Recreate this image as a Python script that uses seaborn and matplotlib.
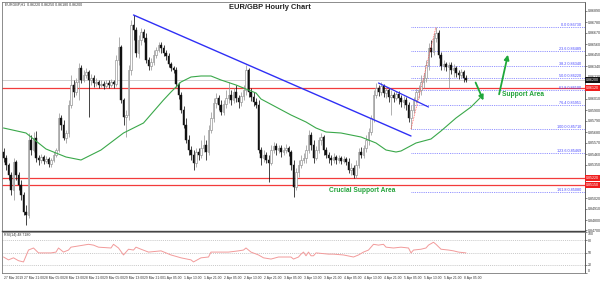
import numpy as np
import pandas as pd
import matplotlib
matplotlib.use("Agg")
import matplotlib.pyplot as plt
import matplotlib.transforms as mtransforms
import seaborn as sns

# ---------------- data (prices in points of 0.0001) ----------------
open_pts = [8548,8542,8535,8525,8510,8538,8525,8515,8505,8488,
            8485,8560,8550,8562,8542,8540,8543,8539,8541,8536,
            8540,8545,8550,8582,8575,8562,8567,8595,8615,8608,
            8618,8632,8620,8625,8628,8620,8622,8617,8618,8615,
            8616,8614,8617,8615,8618,8616,8640,8653,8600,8583,
            8585,8630,8675,8670,8647,8660,8668,8662,8640,8634,
            8638,8645,8650,8655,8652,8647,8644,8636,8632,8630,
            8616,8605,8590,8575,8560,8550,8545,8537,8548,8545,
            8552,8555,8548,8570,8582,8597,8602,8595,8588,8596,
            8602,8605,8600,8608,8602,8598,8604,8610,8630,8608,
            8603,8598,8595,8550,8542,8545,8540,8537,8550,8554,
            8550,8552,8548,8550,8552,8548,8535,8513,8528,8535,
            8540,8542,8550,8565,8555,8542,8550,8560,8563,8550,
            8545,8542,8540,8543,8540,8542,8539,8541,8538,8530,
            8532,8525,8535,8548,8545,8552,8560,8568,8582,8605,
            8612,8608,8614,8607,8610,8603,8605,8602,8606,8602,
            8598,8600,8595,8582,8590,8600,8608,8610,8618,8622,
            8635,8652,8648,8662,8667,8645,8634,8636,8633,8635,
            8630,8632,8627,8625,8628,8622]
high_pts = [8552,8545,8537,8528,8542,8540,8528,8520,8508,8495,
            8567,8565,8568,8569,8545,8546,8545,8544,8543,8542,
            8548,8552,8587,8585,8580,8570,8600,8625,8620,8622,
            8637,8635,8630,8632,8630,8626,8625,8622,8620,8620,
            8619,8620,8620,8621,8620,8645,8663,8655,8602,8590,
            8635,8680,8685,8673,8665,8672,8671,8667,8643,8642,
            8650,8653,8658,8658,8655,8650,8647,8638,8634,8633,
            8618,8608,8594,8582,8565,8554,8550,8552,8552,8560,
            8565,8560,8575,8588,8602,8607,8605,8600,8600,8610,
            8618,8610,8612,8615,8605,8608,8615,8635,8632,8612,
            8608,8602,8600,8553,8550,8548,8545,8555,8558,8557,
            8555,8555,8553,8556,8554,8550,8540,8532,8540,8545,
            8547,8555,8570,8568,8560,8554,8563,8567,8565,8553,
            8548,8545,8547,8545,8545,8544,8544,8543,8542,8537,
            8535,8540,8552,8553,8555,8565,8572,8585,8610,8617,
            8615,8618,8616,8613,8612,8610,8608,8609,8609,8605,
            8604,8603,8598,8595,8603,8612,8615,8625,8627,8640,
            8657,8660,8667,8673,8670,8648,8640,8638,8638,8638,
            8636,8634,8630,8631,8630,8625]
low_pts = [8538,8530,8520,8505,8500,8520,8510,8500,8485,8475,
           8482,8545,8548,8538,8535,8537,8536,8537,8533,8533,
           8538,8543,8548,8570,8560,8557,8563,8592,8603,8605,
           8600,8617,8618,8622,8583,8615,8613,8614,8612,8613,
           8611,8612,8612,8613,8612,8614,8635,8597,8575,8563,
           8580,8625,8660,8643,8642,8655,8658,8637,8630,8630,
           8635,8642,8648,8647,8644,8640,8633,8629,8627,8613,
           8601,8587,8572,8557,8545,8540,8530,8533,8540,8542,
           8548,8540,8545,8567,8578,8592,8590,8585,8585,8592,
           8597,8595,8597,8598,8592,8594,8600,8605,8603,8599,
           8594,8592,8547,8535,8538,8537,8518,8535,8547,8545,
           8547,8543,8545,8547,8544,8530,8503,8510,8523,8532,
           8537,8537,8547,8550,8537,8540,8547,8555,8545,8542,
           8537,8535,8537,8536,8537,8536,8537,8535,8527,8525,
           8522,8522,8532,8542,8542,8548,8555,8565,8578,8602,
           8604,8605,8603,8602,8598,8585,8598,8600,8596,8593,
           8592,8590,8578,8571,8587,8597,8602,8605,8612,8618,
           8630,8643,8645,8658,8642,8630,8630,8629,8612,8626,
           8623,8623,8621,8622,8618,8618]
close_pts = [8542,8535,8525,8510,8538,8525,8515,8505,8488,8485,
             8560,8550,8562,8542,8540,8543,8539,8541,8536,8540,
             8545,8550,8582,8575,8562,8567,8595,8615,8608,8618,
             8632,8620,8625,8628,8620,8622,8617,8618,8615,8616,
             8614,8617,8615,8618,8616,8640,8653,8600,8583,8585,
             8630,8675,8670,8647,8660,8668,8662,8640,8634,8638,
             8645,8650,8655,8652,8647,8644,8636,8632,8630,8616,
             8605,8590,8575,8560,8550,8545,8537,8548,8545,8552,
             8555,8548,8570,8582,8597,8602,8595,8588,8596,8602,
             8605,8600,8608,8602,8598,8604,8610,8630,8608,8603,
             8598,8595,8550,8542,8545,8540,8537,8550,8554,8550,
             8552,8548,8550,8552,8548,8535,8513,8528,8535,8540,
             8542,8550,8565,8555,8542,8550,8560,8563,8550,8545,
             8542,8540,8543,8540,8542,8539,8541,8538,8530,8532,
             8525,8535,8548,8545,8552,8560,8568,8582,8605,8612,
             8608,8614,8607,8610,8603,8605,8602,8606,8602,8598,
             8600,8595,8582,8590,8600,8608,8610,8618,8622,8635,
             8652,8648,8662,8667,8645,8634,8636,8633,8635,8630,
             8632,8627,8625,8628,8622,8620]

# moving average (green) sampled at bar indices
ma_bar = [0, 9, 13, 17, 21, 25, 31, 39, 48, 56, 64, 67, 71, 75, 79, 83, 87, 93, 97,
          101, 103, 109, 115, 121, 125, 129, 135, 143, 149, 153, 157, 159, 165, 171,
          175, 181, 187, 191]
ma_pts = [8572, 8567, 8559, 8551, 8547, 8543, 8540, 8550, 8567, 8577, 8600, 8608, 8618,
          8623, 8624, 8624, 8620, 8615, 8611, 8607, 8601, 8593, 8585, 8578, 8572, 8568,
          8567, 8563, 8557, 8550, 8548, 8549, 8557, 8561, 8569, 8582, 8593, 8603]

# RSI(14)
rsi_bar = [0,2,4,6,8,10,12,14,19,21,22,24,26,27,30,34,36,38,43,44,46,48,50,52,53,55,58,
           63,67,71,75,76,79,82,83,86,90,94,96,97,99,102,104,107,110,112,115,116,118,119,
           120,121,122,123,124,125,130,132,136,140,142,144,146,148,150,152,153,156,159,
           162,163,164,167,169,170,172,173,175,178,180,182,185]
rsi_val = [39,32,37,30,27,56,61,49,49,51,61,51,56,63,66,70,68,63,61,70,61,44,58,56,63,58,
           51,54,44,37,32,27,37,39,51,51,51,54,56,61,51,44,37,34,39,39,39,34,39,46,51,42,
           51,42,42,49,46,46,44,39,44,51,56,70,68,70,63,61,63,61,49,56,58,61,68,75,70,58,
           56,54,51,49]
rsi_levels = [80, 50, 20]
rsi_ticks = [100, 80, 50, 20, 0]

time_labels = ["27 Mar 2019", "27 Mar 21:00", "28 Mar 05:00", "28 Mar 13:00", "28 Mar 21:00",
               "29 Mar 05:00", "29 Mar 13:00", "29 Mar 21:00", "1 Apr 05:00", "1 Apr 13:00",
               "1 Apr 21:00", "2 Apr 05:00", "2 Apr 13:00", "2 Apr 21:00", "3 Apr 05:00",
               "3 Apr 13:00", "3 Apr 21:00", "4 Apr 05:00", "4 Apr 13:00", "4 Apr 21:00",
               "5 Apr 05:00", "5 Apr 13:00", "5 Apr 21:00", "8 Apr 05:00"]
bars_per_label = 8

price_ticks = [0.8689, 0.8678, 0.8667, 0.8656, 0.8645, 0.8634, 0.8623, 0.8601, 0.8590,
               0.8579, 0.8568, 0.8557, 0.8546, 0.8535, 0.8502, 0.8491, 0.8480, 0.8470]

support_levels = [0.8612, 0.8522, 0.8515]
current_price = 0.8620

trend1_bar = [52, 163]
trend1_price = [0.8685, 0.8564]
trend2_bar = [150, 170]
trend2_price = [0.8617, 0.8593]

fib_high_bar, fib_high = 173, 0.8673
fib_low_bar, fib_low = 163, 0.8571
fib_ratios = [0.0, 23.6, 38.2, 50.0, 61.8, 76.4, 100.0, 123.6, 161.8]

# ---------------- build frames ----------------
df = pd.DataFrame({"bar": np.arange(len(close_pts)),
                   "open": np.array(open_pts) / 1e4, "high": np.array(high_pts) / 1e4,
                   "low": np.array(low_pts) / 1e4, "close": np.array(close_pts) / 1e4})
ma_df = pd.DataFrame({"bar": ma_bar, "ma": np.array(ma_pts) / 1e4})
rsi_df = pd.DataFrame({"bar": rsi_bar, "rsi": rsi_val})

sns.set_style("white")
plt.rcParams["font.family"] = ["Liberation Sans", "DejaVu Sans"]

W, H = 600, 281
fig = plt.figure(figsize=(W / 100, H / 100), dpi=100)
ax = fig.add_axes([2 / W, 1 - 231 / H, 583 / W, 229 / H])
axr = fig.add_axes([2 / W, 1 - 273 / H, 583 / W, 41 / H])

xlim = (-0.6, 232.6)
for a in (ax, axr):
    a.set_xlim(*xlim)
    a.set_facecolor("white")
    for s in a.spines.values():
        s.set_color("#7a7a7a")
        s.set_linewidth(0.6)
ax.set_ylim(0.8469, 0.8698)
axr.set_ylim(0, 100)

# horizontal support lines
ax.axhline(current_price, color="#c8c8c8", lw=0.6, zorder=1)
for lv in support_levels:
    ax.axhline(lv, color="#f23b3b", lw=0.9, zorder=1)

# candles
bull = df[df.close >= df.open]
bear = df[df.close < df.open]
ax.vlines(bull.bar, bull.low, bull.high, color="#9a9a9a", lw=0.55, zorder=2)
ax.vlines(bear.bar, bear.low, bear.high, color="#111111", lw=0.55, zorder=2)
ax.bar(bull.bar, bull.close - bull.open, bottom=bull.open, width=0.62,
       color="white", edgecolor="#8c8c8c", lw=0.45, zorder=3)
ax.bar(bear.bar, bear.open - bear.close, bottom=bear.close, width=0.62,
       color="#111111", edgecolor="#111111", lw=0.3, zorder=3)

# moving average
sns.lineplot(data=ma_df, x="bar", y="ma", ax=ax, color="#3aa84a", lw=0.8, zorder=4)

# trend lines
ax.plot(trend1_bar, trend1_price, color="#2f2ff5", lw=1.0, zorder=5)
ax.plot(trend2_bar, trend2_price, color="#2f2ff5", lw=0.9, zorder=5)

# fibonacci
ax.plot([fib_low_bar, fib_high_bar], [fib_low, fib_high], color="#ff5050",
        lw=0.6, ls=(0, (1, 1)), zorder=4)
for r in fib_ratios:
    p = fib_high - r / 100 * (fib_high - fib_low)
    ax.hlines(p, fib_low_bar, xlim[1], colors="#7070ff", lw=0.6,
              linestyles=(0, (1, 1.2)), zorder=1)
    ax.text(xlim[1] - 1.5, p + 0.00004, f"{r:.1f} {p:.5f}", ha="right", va="bottom",
            fontsize=2.7, color="#4545ff", zorder=6)

# right price axis
ax.yaxis.tick_right()
ax.set_yticks(price_ticks)
ax.set_yticklabels([f"{v:.5f}" for v in price_ticks])
ax.tick_params(axis="y", direction="out", length=1.5, width=0.4, labelsize=2.6, pad=0.8,
               colors="#333333")
ax.set_xticks([])
ax.set_xlabel("")
ax.set_ylabel("")
ax.spines["right"].set_color("#444444")
ax.spines["bottom"].set_color("#444444")
ax.spines["bottom"].set_linewidth(1.0)

trans = mtransforms.blended_transform_factory(ax.transAxes, ax.transData)
for lv in support_levels:
    ax.text(1.002, lv, f"{lv:.5f}", transform=trans, fontsize=2.6, color="white",
            va="center", ha="left", clip_on=False,
            bbox=dict(boxstyle="square,pad=0.25", fc="#f01e1e", ec="none"))
ax.text(1.002, current_price, f"{current_price:.5f}", transform=trans, fontsize=2.6,
        color="white", va="center", ha="left", clip_on=False,
        bbox=dict(boxstyle="square,pad=0.25", fc="#111111", ec="none"))

# annotations
ax.text(208, 0.8605, "Support Area", color="#23a33a", fontsize=4.8, fontweight="bold",
        ha="center", va="center", zorder=7)
ax.text(143.5, 0.8510, "Crucial Support Area", color="#23a33a", fontsize=4.8,
        fontweight="bold", ha="center", va="center", zorder=7)
ax.annotate("", xy=(202, 0.8648), xytext=(198, 0.8603),
            arrowprops=dict(arrowstyle="-|>", color="#1fa83a", lw=1.3, mutation_scale=7))
ax.annotate("", xy=(192.4, 0.8597), xytext=(188.4, 0.8620),
            arrowprops=dict(arrowstyle="-|>", color="#1fa83a", lw=1.3, mutation_scale=7))
fig.text(270 / W, 1 - 7.5 / H, "EUR/GBP Hourly Chart", ha="center", va="center",
         fontsize=5.4, fontweight="bold", color="#222222")
fig.text(5 / W, 1 - 4.5 / H, "EURGBP,H1  0.86220 0.86250 0.86180 0.86200",
         ha="left", va="center", fontsize=2.6, color="#333333")

# RSI panel
for lv in rsi_levels:
    axr.axhline(lv, color="#b5b5b5", lw=0.5, ls=(0, (1.5, 1.5)))
sns.lineplot(data=rsi_df, x="bar", y="rsi", ax=axr, color="#f29a9a", lw=0.7)
axr.yaxis.tick_right()
axr.set_yticks(rsi_ticks)
axr.set_yticklabels([str(v) for v in rsi_ticks])
axr.tick_params(axis="y", direction="out", length=1.5, width=0.4, labelsize=2.5, pad=0.8,
                colors="#333333")
ylab = axr.get_yticklabels()
ylab[0].set_va("top")
ylab[-1].set_va("bottom")
tick_pos = [i * bars_per_label for i in range(len(time_labels))]
axr.set_xticks(tick_pos)
axr.set_xticklabels(time_labels, ha="left")
axr.tick_params(axis="x", direction="out", length=1.5, width=0.4, labelsize=2.4, pad=0.8,
                colors="#333333")
axr.set_xlabel("")
axr.set_ylabel("")
axr.spines["right"].set_color("#444444")
axr.text(0.004, 0.97, "RSI(14) 48.7180", transform=axr.transAxes, fontsize=2.6,
         va="top", ha="left", color="#333333")

fig.savefig("out.png", dpi=100, facecolor="white")
